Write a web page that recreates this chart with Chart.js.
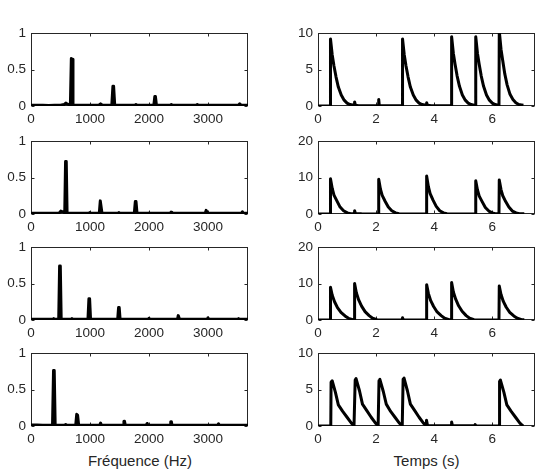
<!DOCTYPE html>
<html><head><meta charset="utf-8">
<script src="https://cdn.jsdelivr.net/npm/chart.js@4"></script>
<style>
html,body{margin:0;padding:0;background:#fff;}
body{width:539px;height:471px;position:relative;overflow:hidden;font-family:"Liberation Sans",Arial,sans-serif;}
.p{position:absolute;}
.t{position:absolute;font-size:15px;color:#262626;transform:translate(-50%,-50%);white-space:nowrap;}
</style></head><body>
<div class="t" style="left:140px;top:459.5px">Fréquence (Hz)</div>
<div class="t" style="left:426.5px;top:459.5px">Temps (s)</div>
<script>
// ---- data: spectra [frequency Hz, amplitude] ----
const spec1 = [[0,0.01],[100,0.01],[200,0.01],[300,0.008],[400,0.01],[500,0.01],[560,0.02],[590,0.04],[610,0.03],[645,0.02],[668,0.01],[684,0.65],[696,0.64],[712,0.01],[800,0.01],[1000,0.01],[1150,0.01],[1180,0.03],[1210,0.01],[1370,0.01],[1389,0.27],[1401,0.27],[1420,0.01],[1760,0.01],[1780,0.02],[1800,0.01],[2083,0.01],[2100,0.13],[2110,0.13],[2127,0.01],[2360,0.01],[2380,0.02],[2400,0.01],[2800,0.01],[2820,0.02],[2840,0.01],[3520,0.01],[3540,0.03],[3560,0.01],[3680,0.01]];
const spec2 = [[0,0.01],[200,0.01],[400,0.01],[480,0.015],[505,0.04],[530,0.03],[555,0.03],[572,0.01],[586,0.72],[598,0.72],[612,0.01],[700,0.01],[980,0.01],[995,0.02],[1010,0.01],[1158,0.01],[1175,0.18],[1187,0.18],[1204,0.01],[1480,0.01],[1490,0.02],[1500,0.01],[1752,0.01],[1769,0.17],[1781,0.17],[1798,0.01],[1990,0.01],[2000,0.015],[2010,0.01],[2360,0.01],[2375,0.025],[2390,0.01],[2955,0.01],[2970,0.05],[2982,0.05],[2997,0.01],[3570,0.01],[3585,0.03],[3600,0.01],[3680,0.01]];
const spec3 = [[0,0.01],[200,0.01],[370,0.01],[385,0.02],[400,0.01],[470,0.01],[485,0.74],[497,0.74],[512,0.01],[680,0.01],[695,0.02],[710,0.01],[966,0.01],[982,0.29],[994,0.29],[1010,0.01],[1190,0.01],[1200,0.012],[1210,0.01],[1470,0.01],[1485,0.17],[1496,0.17],[1511,0.01],[1985,0.01],[2000,0.025],[2015,0.01],[2485,0.01],[2497,0.06],[2507,0.06],[2519,0.01],[2985,0.01],[3000,0.03],[3015,0.01],[3505,0.01],[3520,0.02],[3535,0.01],[3680,0.01]];
const spec4 = [[0,0.015],[100,0.015],[200,0.01],[300,0.01],[365,0.01],[382,0.76],[394,0.76],[410,0.01],[570,0.01],[588,0.02],[605,0.01],[700,0.01],[758,0.01],[775,0.16],[790,0.15],[808,0.01],[1165,0.01],[1180,0.04],[1195,0.01],[1380,0.01],[1395,0.012],[1410,0.01],[1563,0.01],[1576,0.065],[1586,0.065],[1599,0.01],[1955,0.01],[1970,0.035],[1985,0.01],[2358,0.01],[2370,0.06],[2380,0.06],[2392,0.01],[2765,0.01],[2780,0.012],[2795,0.01],[3165,0.01],[3180,0.03],[3195,0.01],[3680,0.01]];

// ---- data: time envelopes [time s, value] ----
const env1 = [[0,0],[0.42,0],[0.43,9.2],[0.49,7.0],[0.55,5.5],[0.62,4.0],[0.7,2.6],[0.8,1.5],[0.9,0.8],[1.0,0.4],[1.1,0.2],[1.2,0.15],[1.24,0.1],[1.26,0.55],[1.29,0.1],[1.4,0.05],[2.07,0.05],[2.09,0.9],[2.11,0.05],[2.9,0.02],[2.91,9.2],[2.97,7.0],[3.03,5.5],[3.1,4.0],[3.18,2.6],[3.28,1.5],[3.38,0.8],[3.48,0.4],[3.58,0.2],[3.68,0.15],[3.72,0.1],[3.74,0.45],[3.77,0.1],[3.9,0.05],[4.59,0.02],[4.6,9.5],[4.66,7.2],[4.72,5.7],[4.79,4.1],[4.87,2.7],[4.97,1.5],[5.07,0.8],[5.17,0.4],[5.27,0.2],[5.37,0.1],[5.42,0.05],[5.43,9.5],[5.49,7.2],[5.55,5.7],[5.62,4.1],[5.7,2.7],[5.8,1.5],[5.9,0.8],[6.0,0.4],[6.1,0.2],[6.2,0.1],[6.23,0.05],[6.24,10.3],[6.3,7.8],[6.36,6.2],[6.43,4.4],[6.51,2.9],[6.61,1.6],[6.71,0.9],[6.81,0.45],[6.91,0.2],[7.01,0.15],[7.07,0.1]];
const env2 = [[0,0],[0.42,0],[0.43,9.7],[0.49,7.0],[0.55,5.2],[0.65,3.6],[0.76,1.9],[0.88,0.9],[1.01,0.3],[1.13,0.1],[1.24,0.1],[1.26,0.9],[1.29,0.1],[1.5,0.05],[2.08,0.02],[2.09,9.5],[2.15,6.8],[2.21,5.1],[2.31,3.5],[2.42,1.9],[2.54,0.9],[2.67,0.3],[2.79,0.1],[3.73,0.02],[3.74,10.4],[3.8,7.5],[3.86,5.6],[3.96,3.8],[4.07,2.1],[4.19,0.9],[4.32,0.3],[4.44,0.1],[5.42,0.02],[5.43,9.1],[5.49,6.6],[5.55,4.9],[5.65,3.4],[5.76,1.8],[5.88,0.8],[6.0,0.3],[6.1,0.1],[6.23,0.05],[6.24,9.3],[6.3,6.7],[6.36,5.0],[6.46,3.4],[6.57,1.9],[6.69,0.8],[6.82,0.3],[6.94,0.1],[7.1,0.05]];
const env3 = [[0,0],[0.42,0],[0.43,9.0],[0.49,6.8],[0.57,5.0],[0.67,3.4],[0.79,2.1],[0.93,1.1],[1.05,0.45],[1.2,0.1],[1.25,0.05],[1.26,10.0],[1.32,7.5],[1.4,5.5],[1.5,3.8],[1.62,2.3],[1.76,1.2],[1.88,0.5],[2.03,0.1],[2.89,0.02],[2.91,0.6],[2.94,0.05],[3.73,0.02],[3.74,9.7],[3.8,7.3],[3.88,5.3],[3.98,3.7],[4.1,2.2],[4.24,1.2],[4.36,0.5],[4.51,0.1],[4.59,0.05],[4.6,10.3],[4.66,7.7],[4.74,5.7],[4.84,3.9],[4.96,2.4],[5.1,1.2],[5.22,0.5],[5.37,0.1],[6.23,0.02],[6.24,9.3],[6.3,7.0],[6.38,5.1],[6.48,3.5],[6.6,2.1],[6.74,1.1],[6.86,0.5],[7.01,0.1],[7.1,0.05]];
const env4 = [[0,0],[0.44,0],[0.45,6.0],[0.49,6.2],[0.6,4.6],[0.7,2.9],[0.85,2.0],[1.0,1.2],[1.15,0.4],[1.24,0.05],[1.27,0.05],[1.28,6.3],[1.31,6.5],[1.43,4.8],[1.53,3.0],[1.68,2.1],[1.83,1.2],[1.98,0.4],[2.07,0.05],[2.09,0.05],[2.1,6.2],[2.13,6.4],[2.25,4.7],[2.35,3.0],[2.5,2.0],[2.65,1.2],[2.8,0.4],[2.9,0.05],[2.92,0.05],[2.93,6.4],[2.96,6.6],[3.08,4.8],[3.18,3.0],[3.33,2.1],[3.48,1.2],[3.63,0.4],[3.72,0.05],[3.73,0.05],[3.74,0.8],[3.77,0.05],[4.59,0.02],[4.6,0.55],[4.63,0.02],[5.39,0.02],[5.41,0.2],[5.44,0.02],[6.24,0],[6.25,6.1],[6.28,6.3],[6.4,4.6],[6.5,2.9],[6.65,2.0],[6.8,1.2],[6.95,0.4],[7.04,0.05],[7.08,0]];

// ---- tick labels ----
const freqTicks = [0,1000,2000,3000];
const timeTicks = [0,2,4,6];
const specYTicks = [0,0.5,1];
const env10Ticks = [0,5,10];
const env20Ticks = [0,10,20];
const freqMax = 3680, timeMax = 7.47;

const FONT = {family:'"Liberation Sans", Arial, sans-serif', size:13.5};
const PL=31, PT=10, PR=6, PB=24;
const colX=[31,318], plotW=217, rowY=[30,138,244,350], plotH=76;

const boxPlugin = {
  id:'box',
  beforeDatasetsDraw(chart){
    const {ctx, chartArea:a, scales:{x,y}} = chart;
    ctx.save();
    ctx.strokeStyle='#262626'; ctx.lineWidth=1;
    const L=Math.floor(a.left)+0.5, R=Math.floor(a.right)-0.5, T=Math.floor(a.top)+0.5, B=Math.floor(a.bottom)-0.5;
    ctx.strokeRect(L,T,R-L,B-T);
    ctx.beginPath();
    const tl=3;
    x.ticks.forEach(t=>{const p=Math.round(x.getPixelForValue(t.value))+0.5; ctx.moveTo(p,B); ctx.lineTo(p,B-tl); ctx.moveTo(p,T); ctx.lineTo(p,T+tl);});
    y.ticks.forEach(t=>{const p=Math.round(y.getPixelForValue(t.value))+0.5; ctx.moveTo(L,p); ctx.lineTo(L+tl,p); ctx.moveTo(R,p); ctx.lineTo(R-tl,p);});
    ctx.stroke();
    ctx.restore();
  }
};

function makePanel(left, top, pts, xMax, xTicks, yMax, yTicks){
  const div=document.createElement('div'); div.className='p';
  div.style.left=(left-PL)+'px'; div.style.top=(top-PT)+'px';
  const c=document.createElement('canvas');
  c.width=plotW+PL+PR; c.height=plotH+PT+PB;
  c.style.width=c.width+'px'; c.style.height=c.height+'px';
  div.appendChild(c); document.body.appendChild(div);
  new Chart(c,{
    type:'line',
    data:{datasets:[{data:pts.map(p=>({x:p[0],y:p[1]})),borderColor:'#000',borderWidth:3,pointRadius:0,tension:0,fill:false,borderJoinStyle:'round',borderCapStyle:'butt'}]},
    options:{
      responsive:false, animation:false, events:[],
      layout:{padding:{top:PT,right:PR,left:0,bottom:0}},
      plugins:{legend:{display:false},tooltip:{enabled:false}},
      scales:{
        x:{type:'linear',min:0,max:xMax,
           grid:{display:false,drawTicks:false},border:{display:false},
           afterBuildTicks:s=>{s.ticks=xTicks.map(v=>({value:v}));},
           afterFit:s=>{s.height=PB;},
           ticks:{padding:5,maxRotation:0,autoSkip:false,color:'#262626',font:FONT,callback:v=>String(v)}},
        y:{type:'linear',min:0,max:yMax,
           grid:{display:false,drawTicks:false},border:{display:false},
           afterBuildTicks:s=>{s.ticks=yTicks.map(v=>({value:v}));},
           afterFit:s=>{s.width=PL;},
           ticks:{padding:5,autoSkip:false,color:'#262626',font:FONT,callback:v=>String(v)}}
      }
    },
    plugins:[boxPlugin]
  });
}

const specs=[spec1,spec2,spec3,spec4];
const envs=[env1,env2,env3,env4];
const envMax=[10,20,20,10];
const envTicks=[env10Ticks,env20Ticks,env20Ticks,env10Ticks];
for(let i=0;i<4;i++){
  makePanel(colX[0],rowY[i],specs[i],freqMax,freqTicks,1,specYTicks);
  makePanel(colX[1],rowY[i],envs[i],timeMax,timeTicks,envMax[i],envTicks[i]);
}
</script>
</body></html>
